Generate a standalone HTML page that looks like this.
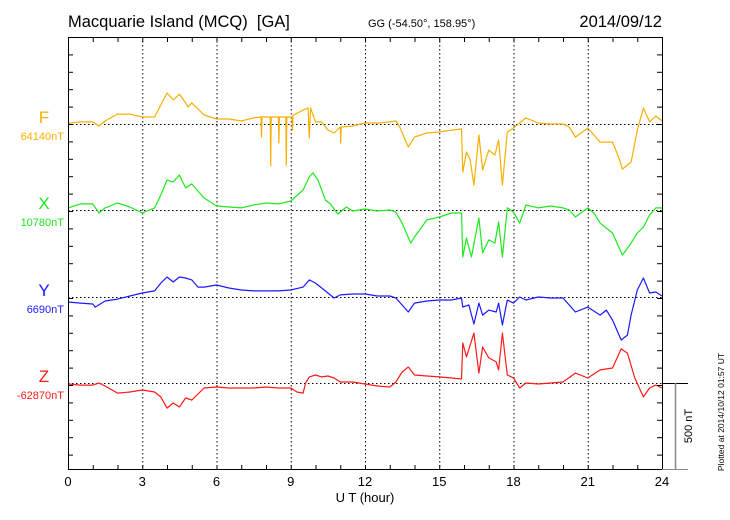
<!DOCTYPE html>
<html><head><meta charset="utf-8">
<style>
html,body{margin:0;padding:0;background:#fff;}
svg{display:block;font-family:"Liberation Sans",sans-serif;}
</style></head>
<body>
<svg id="chart" width="730" height="520" viewBox="0 0 730 520" xmlns="http://www.w3.org/2000/svg">
<text x="68" y="27" font-size="16.5" fill="#000">Macquarie Island (MCQ)&#160; [GA]</text>
<text x="368" y="27" font-size="11" fill="#000">GG (-54.50°, 158.95°)</text>
<text x="662" y="27" font-size="16.5" text-anchor="end" fill="#000">2014/09/12</text>
<g id="grid"></g>
<g id="series"></g>
<rect x="68.5" y="37.5" width="594" height="432" fill="none" stroke="#000" stroke-width="1"/>
<g id="ticks"></g>
<text x="365" y="502" font-size="13" text-anchor="middle">U T (hour)</text>
<line x1="662" y1="383.5" x2="688" y2="383.5" stroke="#000"/>
<line x1="675.5" y1="383" x2="675.5" y2="469" stroke="#888" stroke-width="1.5"/>
<line x1="662" y1="469.5" x2="688" y2="469.5" stroke="#888"/>
<text transform="translate(692,426) rotate(-90)" font-size="11" text-anchor="middle">500 nT</text>
<text transform="translate(724,412) rotate(-90)" font-size="8.5" text-anchor="middle">Plotted at 2014/10/12 01:57 UT</text>
</svg>
<script>
const xTicks = [0,3,6,9,12,15,18,21,24];
const seriesNames = ["F","X","Y","Z"];
const baseLabels = ["64140nT","10780nT","6690nT","-62870nT"];
const fH = [0,0.5,1,1.25,1.5,2,2.5,3,3.5,3.75,4,4.25,4.5,4.75,4.85,5,5.5,6,6.5,7,7.5,7.8,7.82,7.84,8.17,8.19,8.21,8.5,8.52,8.54,8.8,8.82,8.84,9.05,9.07,9.09,9.5,9.7,9.75,9.8,10,10.25,10.5,10.75,11,11.02,11.04,11.5,12,12.5,13,13.25,13.4,13.75,14,14.5,15,15.5,15.9,15.95,16.1,16.25,16.4,16.6,16.75,17,17.25,17.4,17.55,17.75,18,18.5,19,19.5,20,20.25,20.5,21,21.25,21.5,22,22.25,22.4,22.75,23,23.25,23.5,23.75,24];
const fV = [4,12,12,-12,17,57,57,40,40,109,178,138,172,121,98,121,52,29,29,17,35,40,-75,40,40,-241,40,40,-109,40,40,-236,40,40,-35,50,80,92,-80,92,12,12,-35,-52,-17,-109,-17,-12,6,6,12,17,-17,-132,-75,-52,-46,-35,-29,-276,-161,-207,-351,-63,-264,-150,-178,-92,-351,-46,-23,35,6,0,0,-17,-75,-23,-63,-104,-104,-190,-259,-219,-35,92,12,46,17];
const xH = [0,0.5,1,1.25,1.5,2,2.5,3,3.5,3.75,4,4.25,4.5,4.75,5,5.5,6,6.5,7,7.5,8,8.5,9,9.5,9.75,9.9,10.1,10.4,10.6,10.9,11.25,11.5,12,12.5,13,13.25,13.5,13.85,14,14.5,15,15.5,15.9,15.95,16.1,16.3,16.6,16.75,17,17.25,17.4,17.55,17.75,18,18.25,18.5,19,19.5,20,20.25,20.5,21,21.25,21.5,22,22.4,22.75,23,23.25,23.5,23.75,24];
const xV = [12,35,35,-17,12,40,17,-17,12,86,172,161,201,127,150,69,23,17,12,29,40,35,52,115,190,213,172,57,35,-23,17,-6,6,-6,0,-12,-75,-190,-155,-57,-40,-17,-17,-270,-161,-270,-46,-247,-172,-190,-69,-270,12,-12,-75,29,12,23,12,0,-40,12,-17,-75,-132,-259,-190,-132,-98,-29,12,12];
const yH = [0,0.5,1,1.1,1.5,2,2.5,3,3.5,3.75,4,4.25,4.5,4.75,5,5.25,5.5,6,6.5,7,7.5,8,8.5,9,9.5,9.75,10,10.25,10.5,10.75,11,11.5,12,12.5,13,13.25,13.75,14,14.5,15,15.5,15.9,15.95,16.2,16.4,16.6,16.75,17,17.3,17.4,17.55,17.75,18,18.25,18.5,19,19.5,20,20.5,21,21.5,21.75,22,22.35,22.6,22.75,23,23.25,23.5,23.75,24];
const yV = [-29,-35,-40,-58,-23,-12,6,23,35,80,115,86,115,109,98,57,57,69,52,40,35,35,35,40,57,98,80,52,23,-6,12,17,17,6,6,-6,-86,-35,-23,-17,-17,-6,-58,-46,-155,-35,-104,-75,-86,-35,-161,-17,-35,0,-17,0,-6,-6,-86,-58,-104,-75,-132,-247,-219,-104,40,109,23,29,6];
const zH = [0,0.5,1,1.25,1.5,2,2.5,3,3.5,3.75,4,4.25,4.5,4.75,5,5.5,6,6.5,7,7.5,8,8.5,9,9.25,9.5,9.6,9.75,10,10.25,10.5,10.75,11,11.5,12,12.5,13,13.25,13.5,13.75,14,14.5,15,15.5,15.9,15.95,16.1,16.4,16.6,16.75,17,17.3,17.4,17.55,17.75,18,18.25,18.5,19,19.5,20,20.5,21,21.5,22,22.35,22.6,22.9,23.25,23.5,23.75,24];
const zV = [-6,-12,-12,0,-17,-58,-52,-40,-52,-80,-144,-115,-138,-86,-98,-29,-23,-29,-29,-29,-23,-29,-29,-52,-58,0,35,46,35,40,29,6,6,-6,-17,-23,6,63,92,46,40,35,29,23,230,150,287,57,207,144,121,75,287,46,29,-29,0,-6,0,6,57,29,75,86,196,172,29,-80,-29,-12,-29];

const NS="http://www.w3.org/2000/svg";
const X0=68, X1=662, Y0=37, Y1=470;
const baselines=[124,210,297,383];
const colors=["#f8b000","#1ee81e","#1a1aff","#ff1a1a"];
const pxPerNT = 87/500;
function xs(h){return X0 + (X1-X0)*h/24;}
function ys(i,v){return baselines[i] - v*pxPerNT;}
function mk(tag,attrs,parent){const e=document.createElementNS(NS,tag);for(const k in attrs)e.setAttribute(k,attrs[k]);parent.appendChild(e);return e;}

const grid=document.getElementById('grid');
xTicks.forEach(h=>{
  if(h>0&&h<24){
    const l=mk('line',{x1:xs(h)+0.5,y1:Y0,x2:xs(h)+0.5,y2:Y1,stroke:'#000','stroke-dasharray':'1.5,2.5','stroke-width':1},grid);
    
    
  }
});
baselines.forEach((b,i)=>{
  const l=mk('line',{x1:X0,y1:b+0.5,x2:X1,y2:b+0.5,stroke:'#000','stroke-dasharray':'1.5,2.5','stroke-width':1},grid);
  
  
});

const ser=document.getElementById('series');
const data=[[fH,fV],[xH,xV],[yH,yV],[zH,zV]];
data.forEach((d,i)=>{
  const pts=d[0].map((h,k)=>xs(h).toFixed(1)+','+ys(i,d[1][k]).toFixed(1)).join(' ');
  const p=mk('polyline',{points:pts,fill:'none',stroke:colors[i],'stroke-width':1.2,'stroke-linejoin':'round'},ser);
  
  
  const t=mk('text',{x:44,y:baselines[i]-1,'font-size':17,'text-anchor':'middle',fill:colors[i]},ser);
  t.textContent=seriesNames[i];
  
  
  const b=mk('text',{x:64,y:baselines[i]+16,'font-size':11,'text-anchor':'end',fill:colors[i]},ser);
  b.textContent=baseLabels[i];
  
  
});

const tk=document.getElementById('ticks');
for(let h=1;h<24;h++){
  const x=xs(h)+0.5;
  const t1=mk('line',{x1:x,y1:Y0,x2:x,y2:Y0+5,stroke:'#000'},tk);
  
  
  const t2=mk('line',{x1:x,y1:Y1,x2:x,y2:Y1-5,stroke:'#000'},tk);
  
  
}
for(let k=-5;k<=20;k++){
  const y=124+k*87/5;
  if(y<Y0+1||y>Y1-1)continue;
  const l1=mk('line',{x1:X0,y1:y+0.5,x2:X0+5,y2:y+0.5,stroke:'#000'},tk);
  
  
  const l2=mk('line',{x1:X1-5,y1:y+0.5,x2:X1,y2:y+0.5,stroke:'#000'},tk);
  
  
}
xTicks.forEach(h=>{
  const t=mk('text',{x:xs(h),y:486,'font-size':13,'text-anchor':'middle'},tk);
  t.textContent=String(h);
  
  
});
</script>
</body></html>
